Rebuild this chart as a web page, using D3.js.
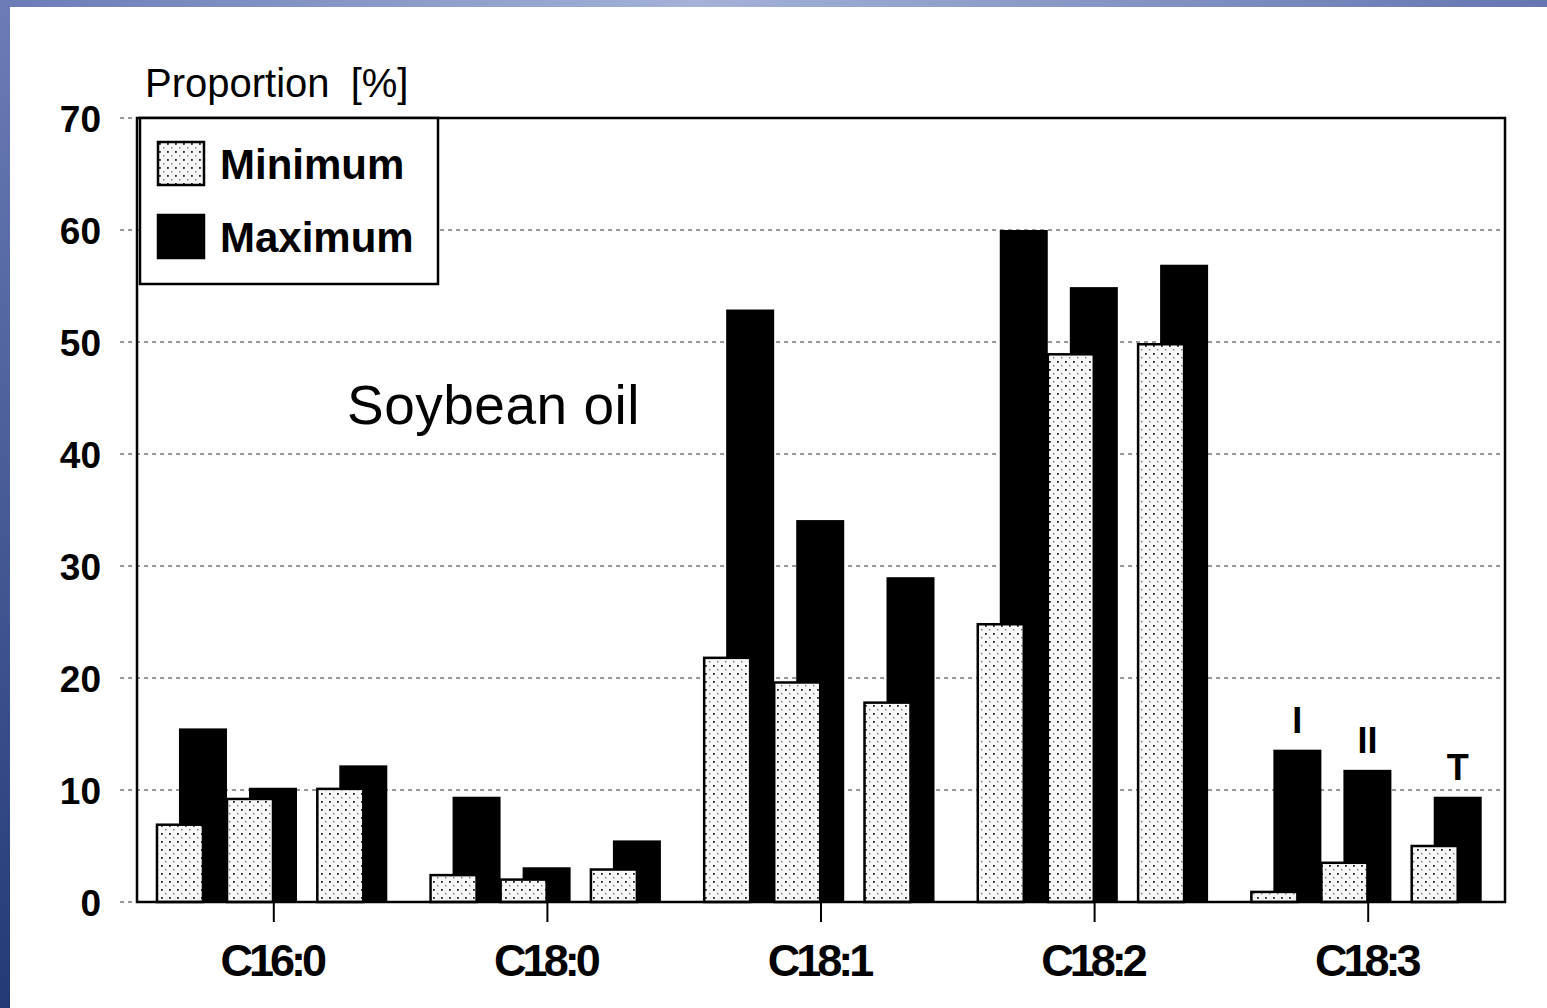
<!DOCTYPE html>
<html>
<head>
<meta charset="utf-8">
<script src="https://cdn.jsdelivr.net/npm/d3@7"></script>
<style>
  html, body { margin: 0; padding: 0; background: #fff; }
  svg { display: block; }
</style>
</head>
<body>
<div id="chart"></div>
<script>

var categories = ["C16:0", "C18:0", "C18:1", "C18:2", "C18:3"];
var groups = ["I", "II", "T"];
var seriesNames = ["Minimum", "Maximum"];

// one row per category, one value per group (I, II, T)
var minimumValues = [
  [6.9, 9.2, 10.1],
  [2.4, 2.0, 2.9],
  [21.8, 19.6, 17.8],
  [24.8, 48.9, 49.8],
  [0.9, 3.5, 5.0]
];
var maximumValues = [
  [15.5, 10.2, 12.2],
  [9.4, 3.1, 5.5],
  [52.9, 34.1, 29.0],
  [60.0, 54.9, 56.9],
  [13.6, 11.8, 9.4]
];

var yTicks = [0, 10, 20, 30, 40, 50, 60, 70];
var labelledCategory = "C18:3";

var width = 1547, height = 1008;
var margin = { top: 118, right: 42, bottom: 106, left: 137 };
var plotW = width - margin.left - margin.right,
  plotH = height - margin.top - margin.bottom;

var svg = d3.select("#chart")
  .append("svg")
  .attr("width", width)
  .attr("height", height);

var defs = svg.append("defs");

var topGrad = defs.append("linearGradient").attr("id", "topGrad")
  .attr("x1", "0%").attr("x2", "100%").attr("y1", "0%").attr("y2", "0%");
topGrad.append("stop").attr("offset", "0%").attr("stop-color", "#6b7cb6");
topGrad.append("stop").attr("offset", "45%").attr("stop-color", "#a4b2d7");
topGrad.append("stop").attr("offset", "100%").attr("stop-color", "#6676b0");

var leftGrad = defs.append("linearGradient").attr("id", "leftGrad")
  .attr("x1", "0%").attr("x2", "0%").attr("y1", "0%").attr("y2", "100%");
leftGrad.append("stop").attr("offset", "0%").attr("stop-color", "#6c7cb6");
leftGrad.append("stop").attr("offset", "100%").attr("stop-color", "#233a78");

// stippled fill for the minimum bars
var dots = defs.append("pattern").attr("id", "stipple")
  .attr("patternUnits", "userSpaceOnUse")
  .attr("width", 8).attr("height", 8);
dots.append("rect").attr("width", 8).attr("height", 8).attr("fill", "#f8f8f8");
dots.append("rect").attr("x", 1).attr("y", 1).attr("width", 1.8).attr("height", 1.8).attr("fill", "#222");
dots.append("rect").attr("x", 5).attr("y", 5).attr("width", 1.4).attr("height", 1.4).attr("fill", "#777");

// blue slide frame
svg.append("rect").attr("x", 0).attr("y", 0).attr("width", width).attr("height", 7).attr("fill", "url(#topGrad)");
svg.append("rect").attr("x", 0).attr("y", 0).attr("width", 10).attr("height", height).attr("fill", "url(#leftGrad)");

var xScale = d3.scaleBand().domain(categories).range([margin.left, margin.left + plotW]);
var yScale = d3.scaleLinear().domain([0, 70]).range([margin.top + plotH, margin.top]);

// position of each min/max pair inside a category band
var groupOffset = d3.scaleOrdinal().domain(groups).range([0.073, 0.329, 0.659]);
var minW = 46, maxW = 48, maxShift = 22;

var rows = [];
categories.forEach(function (c, i) {
  groups.forEach(function (g, j) {
    rows.push({ cat: c, group: g, min: minimumValues[i][j], max: maximumValues[i][j] });
  });
});

function pairX(d) {
  return xScale(d.cat) + groupOffset(d.group) * xScale.bandwidth();
}

// dotted gridlines
svg.append("g")
  .attr("class", "grid")
  .selectAll("line")
  .data(yTicks.filter(function (t) { return t > 0; }))
  .enter()
  .append("line")
  .attr("x1", margin.left - 17)
  .attr("x2", margin.left + plotW - 4)
  .attr("y1", function (d) { return yScale(d); })
  .attr("y2", function (d) { return yScale(d); })
  .attr("stroke", "#777")
  .attr("stroke-width", 1.6)
  .attr("stroke-dasharray", "4,4");

svg.append("line")
  .attr("x1", margin.left - 17).attr("x2", margin.left)
  .attr("y1", yScale(0)).attr("y2", yScale(0))
  .attr("stroke", "#777").attr("stroke-width", 1.6).attr("stroke-dasharray", "4,4");

var bars = svg.append("g").attr("class", "bars");

bars.selectAll("rect.max")
  .data(rows)
  .enter()
  .append("rect")
  .attr("class", "max")
  .attr("x", function (d) { return pairX(d) + maxShift; })
  .attr("y", function (d) { return yScale(d.max); })
  .attr("width", maxW)
  .attr("height", function (d) { return yScale(0) - yScale(d.max); })
  .attr("fill", "#000");

bars.selectAll("rect.min")
  .data(rows)
  .enter()
  .append("rect")
  .attr("class", "min")
  .attr("x", function (d) { return pairX(d); })
  .attr("y", function (d) { return yScale(d.min); })
  .attr("width", minW)
  .attr("height", function (d) { return yScale(0) - yScale(d.min); })
  .attr("fill", "url(#stipple)")
  .attr("stroke", "#000")
  .attr("stroke-width", 2.5);

// group labels over the last category
svg.append("g")
  .selectAll("text")
  .data(rows.filter(function (d) { return d.cat == labelledCategory; }))
  .enter()
  .append("text")
  .attr("x", function (d) { return pairX(d) + maxShift + maxW / 2; })
  .attr("y", function (d) { return yScale(d.max) - 17; })
  .attr("text-anchor", "middle")
  .attr("font-family", "Liberation Sans, Arial, sans-serif")
  .attr("font-weight", "bold")
  .attr("font-size", 36)
  .text(function (d) { return d.group; });

// frame
svg.append("rect")
  .attr("x", margin.left).attr("y", margin.top)
  .attr("width", plotW).attr("height", plotH)
  .attr("fill", "none")
  .attr("stroke", "#000")
  .attr("stroke-width", 2.5);

// axes
var xAxis = d3.axisBottom(xScale).tickSize(20).tickPadding(22);
var gx = svg.append("g")
  .attr("transform", "translate(0," + yScale(0) + ")")
  .call(xAxis);
gx.select(".domain").remove();
gx.selectAll(".tick line").attr("stroke", "#000").attr("stroke-width", 2);
gx.selectAll(".tick text")
  .attr("fill", "#000")
  .attr("font-family", "Liberation Sans, Arial, sans-serif")
  .attr("font-weight", "bold")
  .attr("font-size", 45)
  .attr("letter-spacing", -4)
  .attr("dx", -2);

var yAxis = d3.axisLeft(yScale).tickValues(yTicks).tickSize(0).tickPadding(36);
var gy = svg.append("g")
  .attr("transform", "translate(" + margin.left + ",0)")
  .call(yAxis);
gy.select(".domain").remove();
gy.selectAll(".tick text")
  .attr("fill", "#000")
  .attr("font-family", "Liberation Sans, Arial, sans-serif")
  .attr("font-weight", "bold")
  .attr("font-size", 37)
  .attr("letter-spacing", 0)
  .attr("dy", "0.36em");

// axis title
svg.append("text")
  .attr("x", 145)
  .attr("y", 97)
  .attr("font-family", "Liberation Sans, Arial, sans-serif")
  .attr("font-size", 40)
  .attr("word-spacing", 10)
  .text("Proportion [%]");

svg.append("text")
  .attr("x", 347)
  .attr("y", 424)
  .attr("font-family", "Liberation Sans, Arial, sans-serif")
  .attr("font-size", 55)
  .attr("letter-spacing", 0.5)
  .text("Soybean oil");

// legend
var legend = svg.append("g").attr("class", "legend");
legend.append("rect")
  .attr("x", 140).attr("y", margin.top)
  .attr("width", 298).attr("height", 166)
  .attr("fill", "#fff")
  .attr("stroke", "#000")
  .attr("stroke-width", 2.5);

var items = legend.selectAll("g.item")
  .data(seriesNames)
  .enter()
  .append("g")
  .attr("class", "item")
  .attr("transform", function (d, i) { return "translate(158," + (142 + i * 73) + ")"; });

items.append("rect")
  .attr("width", 46).attr("height", 43)
  .attr("fill", function (d, i) { return i == 0 ? "url(#stipple)" : "#000"; })
  .attr("stroke", "#000")
  .attr("stroke-width", 2.5);

items.append("text")
  .attr("x", 62)
  .attr("y", 37)
  .attr("font-family", "Liberation Sans, Arial, sans-serif")
  .attr("font-weight", "bold")
  .attr("font-size", 42)
  .text(function (d) { return d; });

</script>
</body>
</html>
